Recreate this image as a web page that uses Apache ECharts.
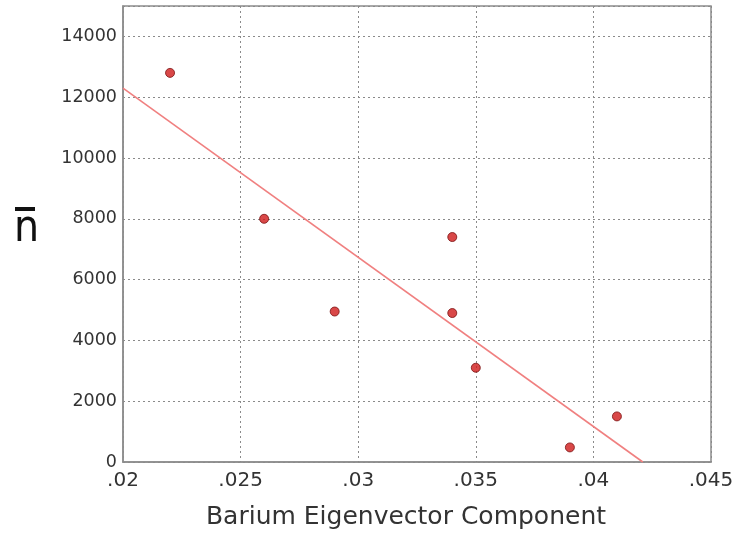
<!DOCTYPE html>
<html>
<head>
<meta charset="utf-8">
<script src="https://cdn.jsdelivr.net/npm/echarts@6/dist/echarts.min.js"></script>
<style>
html,body{margin:0;padding:0;background:#fff;}
#main{width:739px;height:533px;}
</style>
</head>
<body>
<div id="main"></div>
<script>
var xValues = [0.022, 0.026, 0.029, 0.034, 0.034, 0.035, 0.039, 0.041];
var yValues = [12800, 8000, 4950, 7400, 4900, 3100, 480, 1500];
var fitLineX = [0.02, 0.0421];
var fitLineY = [12300, 0];
var xTitle = 'Barium Eigenvector Component';
var yTitle = 'n';

var points = xValues.map(function (x, i) { return [x, yValues[i]]; });
var fit = fitLineX.map(function (x, i) { return [x, fitLineY[i]]; });

var chart = echarts.init(document.getElementById('main'), null, {renderer: 'canvas'});
var gridLine = {show: true, lineStyle: {type: [2, 3], color: '#8a8a8a', width: 1}};
chart.setOption({
  animation: false,
  backgroundColor: '#fff',
  grid: {left: 123, right: 28, top: 6, bottom: 71, show: true, borderColor: '#8c8c8c', borderWidth: 1.5,
    containLabel: false, outerBoundsMode: 'none'},
  xAxis: {
    type: 'value', min: 0.02, max: 0.045, interval: 0.005,
    axisLine: {show: true, lineStyle: {color: '#8c8c8c', width: 1.5}},
    axisTick: {show: false},
    splitLine: gridLine,
    axisLabel: {
      color: '#333', fontSize: 20, fontFamily: 'DejaVu Sans', margin: 9,
      formatter: function (v) { return (+v.toFixed(3)).toString().replace(/^0/, ''); }
    },
    name: xTitle, nameLocation: 'middle', nameGap: 43,
    nameTextStyle: {color: '#333', fontSize: 25, fontFamily: 'DejaVu Sans', padding: [0, 22, 0, 0]}
  },
  yAxis: {
    type: 'value', min: 0, max: 15000, interval: 2000,
    axisLine: {show: true, lineStyle: {color: '#8c8c8c', width: 1.5}},
    axisTick: {show: false},
    splitLine: gridLine,
    axisLabel: {color: '#333', fontSize: 17.5, fontFamily: 'DejaVu Sans', margin: 6, showMaxLabel: false,
      formatter: function (v) { return v === 15000 ? '' : String(v); }}
  },
  graphic: [{
    type: 'text', x: 14, y: 230,
    style: {text: yTitle, font: '44px "DejaVu Sans Condensed", "DejaVu Sans"', fill: '#111', verticalAlign: 'middle'}
  }, {
    type: 'rect', shape: {x: 15, y: 207, width: 20, height: 4},
    style: {fill: '#111'}
  }],
  series: [{
    type: 'line', data: fit, symbol: 'none',
    lineStyle: {color: '#f08080', width: 1.6}, z: 2
  }, {
    type: 'scatter', data: points, symbolSize: 9,
    itemStyle: {color: '#cf1a1a', borderColor: '#7a1010', borderWidth: 1}, z: 3
  }]
});
</script>
</body>
</html>
